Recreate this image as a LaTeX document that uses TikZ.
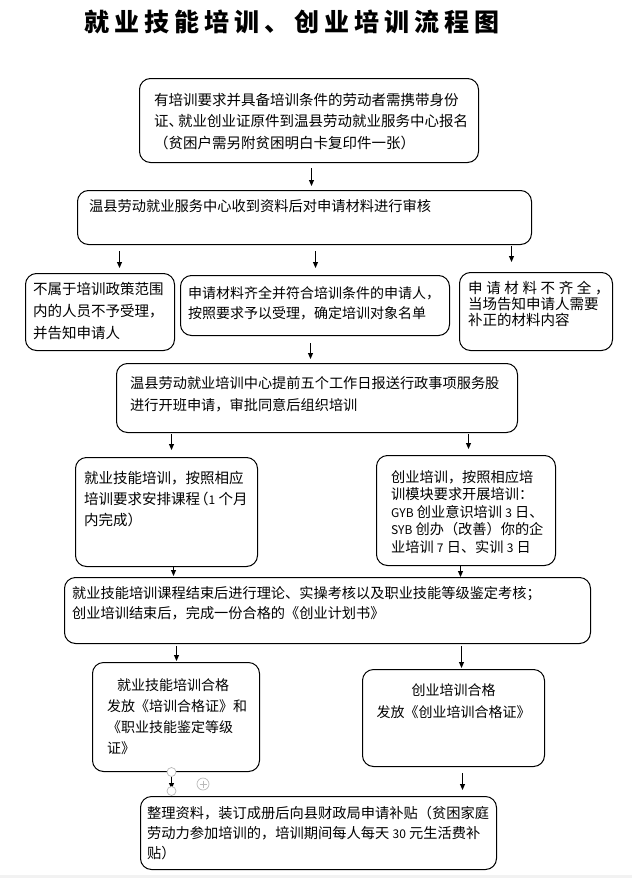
\documentclass[tikz,border=0pt]{standalone}
\usepackage{fontspec}
\setmainfont{Noto Sans CJK SC}
\newfontfamily\titlefont{Noto Sans CJK SC}[LetterSpace=20]
\usetikzlibrary{positioning, arrows.meta}

\tikzset{
  stepbox/.style={draw, rounded corners=11pt, line width=1pt, inner sep=0pt, anchor=north west},
  steptext/.style={anchor=north west, inner sep=0pt, align=left},
  arr/.style={-{Triangle[length=6pt,width=5pt]}, line width=0.9pt},
  handle/.style={draw=gray!55, fill=white, line width=0.7pt},
}
\newcommand{\bodyfont}[2]{\fontsize{#1}{#2}\selectfont}
\newcommand{\lat}[1]{{\fontsize{12}{12}\selectfont #1}}

\begin{document}
\begin{tikzpicture}[x=1pt, y=-1pt]
    \useasboundingbox (0,0) rectangle (632,878);
    \fill[gray!10] (0,875) rectangle (632,878);

    % Title
    \node[anchor=west, inner sep=0pt, font=\titlefont\bfseries\fontsize{25}{25}\selectfont] (title) at (84,22) {就业技能培训、创业培训流程图};

    % Boxes
    \node[stepbox, minimum width=339pt, minimum height=84pt] (apply) at (139,78) {};
    \node[stepbox, minimum width=454pt, minimum height=54pt] (check) at (77,190) {};
    \node[stepbox, minimum width=149pt, minimum height=77pt] (reject) at (25,273) {};
    \node[stepbox, minimum width=269pt, minimum height=60pt] (accept) at (180,275) {};
    \node[stepbox, minimum width=153pt, minimum height=78pt] (supply) at (459,272) {};
    \node[stepbox, minimum width=401pt, minimum height=69pt] (report) at (116,363) {};
    \node[stepbox, minimum width=182pt, minimum height=109pt] (skill) at (75,457) {};
    \node[stepbox, minimum width=179pt, minimum height=110pt] (startup) at (376,455) {};
    \node[stepbox, minimum width=526pt, minimum height=66pt] (exam) at (64,577) {};
    \node[stepbox, minimum width=167pt, minimum height=109pt] (skillcert) at (92,662) {};
    \node[stepbox, minimum width=182pt, minimum height=97pt] (startcert) at (362,669) {};
    \node[stepbox, minimum width=356pt, minimum height=73pt] (subsidy) at (140,796) {};

    % Texts
    \node[steptext, font=\bodyfont{14.5}{21.5}] (apply-t) at ([shift={(15,15)}]apply.north west)
        {有培训要求并具备培训条件的劳动者需携带身份\\证、\kern-5pt 就业创业证原件到温县劳动就业服务中心报名\\（贫困户需另附贫困明白卡复印件一张）};
    \node[steptext, font=\bodyfont{14.25}{20}] (check-t) at ([shift={(12,9)}]check.north west)
        {温县劳动就业服务中心收到资料后对申请材料进行审核};
    \node[steptext, font=\bodyfont{14.5}{22}] (reject-t) at ([shift={(8,9)}]reject.north west)
        {不属于培训政策范围\\内的人员不予受理，\\并告知申请人};
    \node[steptext, font=\bodyfont{14}{20}] (accept-t) at ([shift={(8,11)}]accept.north west)
        {申请材料齐全并符合培训条件的申请人，\\按照要求予以受理，确定培训对象名单};
    \node[steptext, font=\bodyfont{14.5}{16}] (supply-t) at ([shift={(9,9)}]supply.north west)
        {{\addfontfeature{LetterSpace=25}申请材料不齐全，}\\当场告知申请人需要\\补正的材料内容};
    \node[steptext, font=\bodyfont{14.2}{22}] (report-t) at ([shift={(14,13)}]report.north west)
        {温县劳动就业培训中心提前五个工作日报送行政事项服务股\\进行开班申请，审批同意后组织培训};
    \node[steptext, font=\bodyfont{14.5}{21}] (skill-t) at ([shift={(9,14)}]skill.north west)
        {就业技能培训，按照相应\\培训要求安排课程\kern-6pt（\lat{1} 个月\\内完成）};
    \node[steptext, font=\bodyfont{14.2}{17.5}] (startup-t) at ([shift={(15,15)}]startup.north west)
        {创业培训，按照相应培\\训模块要求开展培训：\\\lat{GYB} 创业意识培训 \lat{3} 日、\\\lat{SYB} 创办（改善）你的企\\业培训 \lat{7} 日、实训 \lat{3} 日};
    \node[steptext, font=\bodyfont{14.2}{20}] (exam-t) at ([shift={(8,9)}]exam.north west)
        {就业技能培训课程结束后进行理论、实操考核以及职业技能等级鉴定考核；\\创业培训结束后，完成一份合格的《创业计划书》};
    \node[steptext, font=\bodyfont{14}{21}] (skillcert-t) at ([shift={(15,16)}]skillcert.north west)
        {\hspace*{10pt}就业技能培训合格\\发放《培训合格证》和\\《职业技能鉴定等级\\证》};
    \node[anchor=north, inner sep=0pt, align=center, font=\bodyfont{14}{22}] (startcert-t) at ([shift={(0,14)}]startcert.north)
        {创业培训合格\\发放《创业培训合格证》};
    \node[steptext, font=\bodyfont{14.25}{20}] (subsidy-t) at ([shift={(7,10)}]subsidy.north west)
        {整理资料，装订成册后向县财政局申请补贴（贫困家庭\\劳动力参加培训的，培训期间每人每天 \lat{30} 元生活费补\\贴）};

    % Arrows
    \coordinate (a1) at ([shift={(2.5,0)}]apply.south);
    \coordinate (a2) at ([shift={(19.5,0)}]reject.north);
    \coordinate (a3) at ([shift={(0.5,0)}]accept.north);
    \coordinate (a4) at ([shift={(-24.5,0)}]supply.north);
    \coordinate (a5) at ([shift={(-4.5,0)}]accept.south);
    \coordinate (a6) at ([shift={(5,0)}]skill.north);
    \coordinate (a7) at ([shift={(2.5,0)}]startup.north);
    \coordinate (a8) at ([shift={(7,0)}]skill.south);
    \coordinate (a9) at ([shift={(-5.5,0)}]startup.south);
    \coordinate (a10) at ([shift={(0.5,0)}]skillcert.north);
    \coordinate (a11) at ([shift={(8,0)}]startcert.north);
    \coordinate (a12) at ([shift={(9,0)}]startcert.south);
    \coordinate (a13) at ([shift={(-4.5,0)}]skillcert.south);

    \draw[arr, shorten <=5pt, shorten >=4pt] (a1) -- (a1 |- check.north);
    \draw[arr, shorten <=6pt, shorten >=5pt] (a2 |- check.south) -- (a2);
    \draw[arr, shorten <=6pt, shorten >=7pt] (a3 |- check.south) -- (a3);
    \draw[arr, shorten <=1pt, shorten >=10pt] (a4 |- check.south) -- (a4);
    \draw[arr, shorten <=7pt, shorten >=4pt] (a5) -- (a5 |- report.north);
    \draw[arr, shorten <=1pt, shorten >=7pt] (a6 |- report.south) -- (a6);
    \draw[arr, shorten <=1pt, shorten >=6pt] (a7 |- report.south) -- (a7);
    \draw[arr, shorten >=1pt] (a8) -- (a8 |- exam.north);
    \draw[arr] (a9) -- (a9 |- exam.north);
    \draw[arr, shorten <=2pt, shorten >=1pt] (a10 |- exam.south) -- (a10);
    \draw[arr, shorten <=2pt, shorten >=1pt] (a11 |- exam.south) -- (a11);
    \draw[arr, shorten <=6pt, shorten >=6pt] (a12) -- (a12 |- subsidy.north);
    \draw[arr, shorten >=7pt] (a13) -- (a13 |- subsidy.north);

    % Editor handles
    \draw[handle] (a13) circle (4.5);
    \draw[handle] ([shift={(0,-5)}]a13 |- subsidy.north) circle (4.5);
    \draw[handle] (203,784) circle (6);
    \draw[gray!55, line width=1pt] (199.5,784) -- (206.5,784) (203,780.5) -- (203,787.5);
\end{tikzpicture}
\end{document}
